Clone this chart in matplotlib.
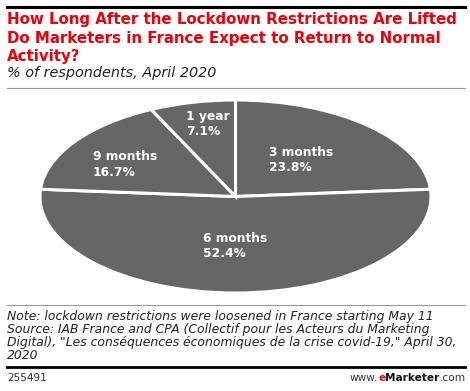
import matplotlib.pyplot as plt
from matplotlib.lines import Line2D

# data
labels = ["3 months", "6 months", "9 months", "1 year"]
shares = [23.8, 52.4, 16.7, 7.1]
# label anchor (left edge, vertical centre) in pie data coords
label_pos = [(0.171, 0.38), (-0.166, -0.515), (-0.730, 0.33), (-0.253, 0.75)]

W, H = 470, 391
fig = plt.figure(figsize=(W / 100, H / 100), dpi=100)
plt.rcParams['font.family'] = 'DejaVu Sans'

def fx(px):
    return px / W

def fy(py):
    return 1 - py / H

# rules
fig.add_artist(Line2D([fx(7), fx(465)], [fy(6.5), fy(6.5)], color='black', lw=2.2))
fig.add_artist(Line2D([fx(7), fx(465)], [fy(88), fy(88)], color='#999999', lw=0.8))
fig.add_artist(Line2D([fx(7), fx(465)], [fy(305), fy(305)], color='#999999', lw=0.8))
fig.add_artist(Line2D([fx(7), fx(465)], [fy(367), fy(367)], color='black', lw=2.0))

# title
title = ("How Long After the Lockdown Restrictions Are Lifted\n"
         "Do Marketers in France Expect to Return to Normal\n"
         "Activity?")
fig.text(fx(7), fy(12), title, color='#e8000b', fontsize=10.85, fontweight='bold',
         va='top', ha='left', linespacing=1.3)
fig.text(fx(7), fy(66), "% of respondents, April 2020", fontsize=10.35, style='italic',
         va='top', ha='left', color='#222222')

# pie drawn as an ellipse
ax = fig.add_axes([fx(40), fy(293), fx(391), 193 / H])
wedges, _ = ax.pie(shares, startangle=90, counterclock=False, colors=['#666666'] * 4,
                   wedgeprops=dict(edgecolor='white', linewidth=2.2))
ax.set_aspect('auto')
ax.set_xlim(-1.0, 1.0)
ax.set_ylim(-1.0, 1.0)
ax.axis('off')

for lab, val, (x, y) in zip(labels, shares, label_pos):
    ax.text(x, y, f"{lab}\n{val:.1f}%", color='white', fontsize=8.8, fontweight='bold',
            ha='left', va='center', linespacing=1.25)

# footnote
note = ("Note: lockdown restrictions were loosened in France starting May 11\n"
        "Source: IAB France and CPA (Collectif pour les Acteurs du Marketing\n"
        "Digital), \"Les conséquences économiques de la crise covid-19,\" April 30,\n"
        "2020")
fig.text(fx(7), fy(310), note, fontsize=8.95, style='italic', va='top', ha='left',
         linespacing=1.0, color='#222222')

fig.text(fx(7), fy(378), "255491", fontsize=7.6, va='center', ha='left', color='#333333')
t1 = fig.text(fx(466), fy(378), ".com", fontsize=7.6, va='center', ha='right', color='#333333')
t2 = fig.text(0, 0, "Marketer", fontsize=7.6, fontweight='bold', va='center', ha='right',
              color='#111111', transform=fig.transFigure)
fig.canvas.draw()
r = fig.canvas.get_renderer()
bb = t1.get_window_extent(r)
t2.set_position((bb.x0 / fig.bbox.width, fy(378)))
bb = t2.get_window_extent(r)
t3 = fig.text(bb.x0 / fig.bbox.width, fy(378), "e", fontsize=7.6, fontweight='bold',
              va='center', ha='right', color='#e8000b')
fig.canvas.draw()
bb = t3.get_window_extent(r)
fig.text(bb.x0 / fig.bbox.width, fy(378), "www.", fontsize=7.6, va='center', ha='right',
         color='#333333')

fig.savefig('out.png', dpi=100)
